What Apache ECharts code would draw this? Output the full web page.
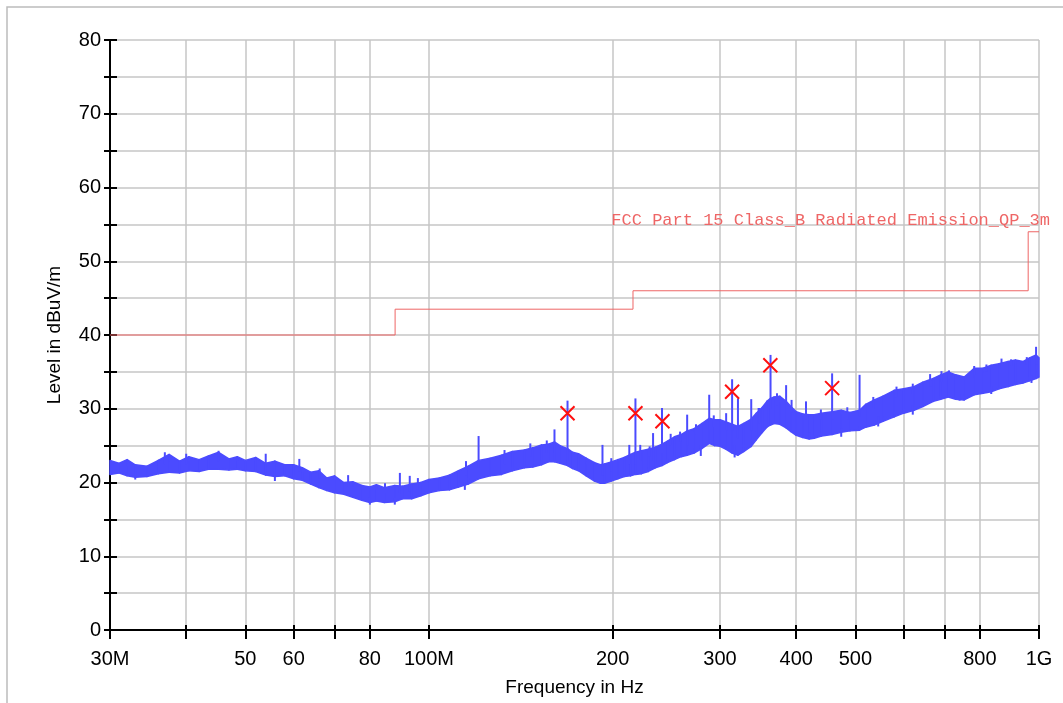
<!DOCTYPE html>
<html>
<head>
<meta charset="utf-8">
<script src="https://cdn.jsdelivr.net/npm/echarts@6/dist/echarts.min.js"></script>
<style>
  html, body { margin: 0; padding: 0; background: #fff; }
  #chart { width: 1063px; height: 703px; }
</style>
</head>
<body>
<div id="chart"></div>
<script>
// frequency axis (MHz)
const xTicks = [30, 40, 50, 60, 70, 80, 100, 200, 300, 400, 500, 600, 700, 800, 1000];
const xLabels = [30, 50, 60, 80, 100, 200, 300, 400, 500, 800, 1000];
const xLabelText = ['30M', '50', '60', '80', '100M', '200', '300', '400', '500', '800', '1G'];

// measured trace, min/max envelope of the noisy sweep
const traceFreq = [30, 31, 32, 33, 34.5, 36, 37.5, 39, 40.4, 42, 43.5, 45.2, 47, 48.5, 50, 52, 54, 55.9, 58, 60,
  62, 64, 66, 68, 70, 72.5, 75, 77.6, 80, 82, 84.5, 87.9, 90.5, 93.7, 97, 100, 104, 108, 111.8, 116,
  120.6, 126, 131.5, 137, 143.4, 148, 152.9, 157, 160.6, 164, 168.7, 172, 175.8, 181, 186.8, 191, 194, 199, 204, 209,
  214, 218, 223, 228.9, 235, 241, 246, 252.6, 259, 265, 272, 280, 288, 294, 300, 307, 314, 321, 328, 337.5,
  344, 352, 358, 363, 368, 376, 385, 392, 400, 410, 420, 428, 440, 458, 474, 490, 508, 520, 537, 555,
  579, 600, 624, 645, 671, 690, 710, 730, 754, 783, 810, 835, 860, 890, 915, 941, 965, 989, 1000];
const traceMax = [23.0, 22.6, 23.1, 22.4, 22.2, 23.0, 23.8, 22.9, 23.5, 23.1, 23.6, 24.1, 23.2, 23.5, 23.0, 23.4, 22.6, 22.9, 22.4, 22.4,
  22.0, 21.4, 21.6, 20.6, 20.9, 20.0, 20.1, 19.6, 19.4, 19.7, 19.3, 19.6, 19.5, 19.8, 20.0, 20.4, 20.6, 21.0, 21.6, 22.2,
  23.0, 23.3, 23.7, 24.2, 24.4, 24.7, 25.1, 25.2, 25.5, 25.0, 24.6, 24.1, 23.9, 23.3, 22.7, 22.4, 22.5, 22.8, 23.1, 23.4,
  23.8, 24.1, 24.3, 24.5, 24.8, 25.2, 25.6, 26.2, 26.5, 27.0, 27.3, 28.0, 28.7, 28.5, 28.5, 28.2, 27.9, 27.6, 28.0, 28.6,
  29.4, 30.2, 31.0, 31.4, 31.6, 31.7, 31.0, 30.3, 29.6, 29.3, 29.2, 29.2, 29.4, 29.6, 29.8, 29.5, 29.8, 30.6, 31.2, 31.7,
  32.5, 32.7, 33.0, 33.6, 34.1, 34.6, 35.0, 34.6, 34.3, 35.5, 35.5, 35.9, 36.1, 36.4, 36.6, 36.4, 36.9, 37.3, 36.9];
const traceMin = [21.1, 21.3, 20.9, 20.7, 20.8, 21.2, 21.4, 21.3, 21.6, 21.5, 21.8, 21.8, 21.7, 21.8, 21.6, 21.5, 21.0, 20.8, 20.9, 20.5,
  20.3, 19.8, 19.3, 18.9, 18.6, 18.4, 18.0, 17.6, 17.3, 17.5, 17.3, 17.4, 17.8, 17.8, 18.2, 18.6, 18.9, 19.0, 19.4, 19.8,
  20.5, 20.9, 21.1, 21.6, 22.0, 22.1, 22.4, 22.8, 22.8, 22.6, 22.3, 21.9, 21.6, 20.9, 20.2, 19.9, 19.9, 20.2, 20.5, 20.8,
  20.9, 21.1, 21.2, 21.5, 22.0, 22.3, 22.7, 23.1, 23.5, 23.7, 24.0, 24.6, 25.3, 25.0, 24.9, 24.5, 24.0, 23.7, 24.2, 24.9,
  25.8, 26.8, 27.5, 27.8, 28.0, 27.9, 27.4, 26.9, 26.4, 26.1, 25.9, 26.0, 26.3, 26.5, 26.8, 27.0, 27.1, 27.5, 27.8, 28.3,
  28.9, 29.4, 29.8, 30.3, 31.0, 31.3, 31.6, 31.3, 31.2, 31.9, 32.1, 32.3, 32.7, 33.0, 33.3, 33.5, 33.8, 34.1, 34.3];

// narrow spikes above the noise floor: [MHz, base dB, peak dB]
const spikes = [
  [120.6, 22.0, 26.3], [160.6, 24.0, 27.2], [168.7, 23.0, 31.1], [192.5, 21.0, 25.1], [218, 22.5, 31.4],
  [233, 23.0, 26.7], [241, 24.0, 30.1], [265, 25.0, 29.2], [288, 27.0, 31.9], [314, 27.0, 34.0],
  [321, 26.0, 31.4], [337.5, 27.0, 31.3], [348, 28.0, 30.1], [363, 30.0, 37.3], [385, 30.0, 33.2],
  [458, 28.5, 34.8], [508, 29.0, 34.6], [989, 36.0, 38.4]
];

// small noise excursions at the band edges: [MHz, from dB, to dB]
const noiseTeeth = [
  [36.9, 22.5, 24.1], [40, 22.5, 23.9], [45.2, 22.8, 24.3], [54.0, 22.0, 23.9], [61.3, 21.5, 23.2],
  [66.2, 20.5, 21.9], [73.7, 19.5, 21.0], [84.7, 18.5, 19.9], [89.6, 18.5, 21.3], [93, 18.8, 20.9],
  [95.9, 19.0, 20.6], [115, 21.0, 22.9], [133, 22.5, 24.4], [146.6, 23.5, 25.3], [156, 24.0, 25.7],
  [199, 21.5, 23.3], [213, 22.5, 25.1], [222, 23.0, 25.1], [230, 23.5, 24.9], [249, 25.0, 26.6],
  [258, 25.5, 26.9], [274, 26.5, 27.9], [293, 27.5, 29.1], [307, 27.0, 29.4], [347, 28.5, 30.1],
  [372, 30.5, 32.1], [393, 29.5, 31.2], [415, 28.5, 31.0], [439, 28.5, 29.9], [485, 28.5, 30.2],
  [535, 30.0, 31.6], [584, 31.5, 33.0], [621, 32.0, 33.4], [663, 33.0, 34.7], [692, 33.5, 35.1],
  [712, 34.0, 35.2], [783, 34.5, 35.8], [820, 35.0, 36.0], [868, 35.5, 36.8], [900, 35.8, 36.7],
  [955, 36.0, 37.0],
  [33, 21.5, 20.4], [55.9, 21.5, 20.2], [80, 18.0, 17.0], [87.9, 18.0, 17.0], [114.5, 20.0, 19.0],
  [279, 25.0, 23.6], [317, 25.0, 23.4], [420, 26.8, 25.9], [474, 27.3, 26.2], [545, 29.0, 27.6],
  [621, 30.5, 29.2], [741, 32.0, 31.1], [835, 33.0, 32.0], [972, 34.5, 33.5]
];

// final (QP) measurement markers
const markFreq = [168.7, 218, 241.4, 314, 362.7, 458];
const markLevel = [29.4, 29.4, 28.3, 32.3, 35.9, 32.8];

// limit line FCC Part 15 Class B, 3 m
const limitFreq = [30, 88, 216, 960, 1000];
const limitLevel = [40, 43.5, 46, 54, 54];
const limitName = 'FCC Part 15 Class_B Radiated Emission_QP_3m';

const lg = Math.log10;
const blue = '#4b4bff';
const gridColor = '#c6c6c6';
const font = 'Liberation Sans, Arial, sans-serif';

// one quad per envelope segment: [x0, min0, max0, x1, min1, max1]
const bandSegs = [];
for (let i = 0; i < traceFreq.length - 1; i++) {
  bandSegs.push([lg(traceFreq[i]), traceMin[i], traceMax[i], lg(traceFreq[i + 1]), traceMin[i + 1], traceMax[i + 1]]);
}

function verticalSeg(width) {
  return (params, api) => {
    const p0 = api.coord([api.value(0), api.value(1)]);
    const p1 = api.coord([api.value(0), api.value(2)]);
    return {
      type: 'line',
      shape: { x1: p0[0], y1: p0[1], x2: p1[0], y2: p1[1] },
      style: { stroke: blue, lineWidth: width }
    };
  };
}

const chart = echarts.init(document.getElementById('chart'));

const xBase = { type: 'value', min: lg(30), max: lg(1000), position: 'bottom' };
const yBase = { type: 'value', min: 0, max: 80, interval: 5, position: 'left' };

chart.setOption({
  animation: false,
  backgroundColor: '#fff',
  grid: { left: 110, right: 24, top: 40, bottom: 73 },
  graphic: [{
    type: 'rect', shape: { x: 7, y: 7, width: 1200, height: 900 },
    style: { fill: 'none', stroke: '#bcbcbc', lineWidth: 1.5 }, silent: true, z: -1
  }],
  xAxis: [
    Object.assign({}, xBase, {
      name: 'Frequency in Hz', nameLocation: 'middle', nameGap: 48,
      nameTextStyle: { color: '#000', fontSize: 19, fontFamily: font },
      axisLine: { lineStyle: { color: '#000', width: 2 } },
      axisTick: { customValues: xTicks.map(lg), length: 9, lineStyle: { color: '#000', width: 2 } },
      axisLabel: {
        customValues: xLabels.map(lg), color: '#000', fontSize: 20, fontFamily: font, margin: 19,
        formatter: v => {
          let best = 0;
          xLabels.forEach((f, i) => { if (Math.abs(lg(f) - v) < Math.abs(lg(xLabels[best]) - v)) best = i; });
          return xLabelText[best];
        }
      },
      splitLine: { show: true, lineStyle: { color: gridColor, width: 1.5 } }
    }),
    Object.assign({}, xBase, {
      axisLine: { show: false },
      axisTick: { customValues: xTicks.map(lg), inside: true, length: 5, lineStyle: { color: '#000', width: 2 } },
      axisLabel: { show: false },
      splitLine: { show: false }
    })
  ],
  yAxis: [
    Object.assign({}, yBase, {
      name: 'Level in dBuV/m', nameLocation: 'middle', nameGap: 46,
      nameTextStyle: { color: '#000', fontSize: 19, fontFamily: font },
      axisLine: { show: true, lineStyle: { color: '#000', width: 2 } },
      axisTick: { show: true, length: 6, lineStyle: { color: '#000', width: 2 } },
      axisLabel: {
        color: '#000', fontSize: 20, fontFamily: font, margin: 9,
        formatter: v => (v % 10 === 0 ? String(v) : '')
      },
      splitLine: { show: true, lineStyle: { color: gridColor, width: 1.5 } }
    }),
    Object.assign({}, yBase, {
      axisLine: { show: false },
      axisTick: { show: true, inside: true, length: 7, lineStyle: { color: '#000', width: 2 } },
      axisLabel: { show: false },
      splitLine: { show: false }
    })
  ],
  series: [
    {
      name: 'trace', type: 'custom', z: 3,
      encode: { x: [0, 3], y: [1, 2, 4, 5] },
      data: bandSegs,
      renderItem: (params, api) => {
        const a = api.coord([api.value(0), api.value(2)]);
        const b = api.coord([api.value(3), api.value(5)]);
        const c = api.coord([api.value(3), api.value(4)]);
        const d = api.coord([api.value(0), api.value(1)]);
        return {
          type: 'polygon',
          shape: { points: [a, b, c, d] },
          style: { fill: blue, stroke: blue, lineWidth: 1.5, lineJoin: 'round' }
        };
      }
    },
    {
      name: 'noise', type: 'custom', z: 3,
      encode: { x: 0, y: [1, 2] },
      data: noiseTeeth.map(s => [lg(s[0]), s[1], s[2]]),
      renderItem: verticalSeg(2)
    },
    {
      name: 'spikes', type: 'custom', z: 3,
      encode: { x: 0, y: [1, 2] },
      data: spikes.map(s => [lg(s[0]), s[1], s[2]]),
      renderItem: verticalSeg(2)
    },
    {
      name: 'limit', type: 'line', step: 'end', symbol: 'none', z: 4,
      lineStyle: { color: '#ee6666', width: 1 },
      data: limitFreq.map((f, i) => [lg(f), limitLevel[i]]),
      markPoint: {
        symbol: 'circle', symbolSize: 1, itemStyle: { color: 'rgba(0,0,0,0)' },
        label: {
          show: true, position: 'top', align: 'right', distance: 2, offset: [11, 0],
          formatter: limitName, color: '#ee6666', fontSize: 17,
          fontFamily: 'Liberation Mono, DejaVu Sans Mono, monospace'
        },
        data: [{ coord: [lg(limitFreq[limitFreq.length - 1]), limitLevel[limitLevel.length - 1]] }]
      }
    },
    {
      name: 'QP', type: 'scatter', z: 5,
      symbol: 'path://M0,0L10,10M10,0L0,10', symbolSize: 14,
      itemStyle: { color: 'rgba(0,0,0,0)', borderColor: '#ff1010', borderWidth: 2, opacity: 1 },
      data: markFreq.map((f, i) => [lg(f), markLevel[i]])
    }
  ]
});
</script>
</body>
</html>
